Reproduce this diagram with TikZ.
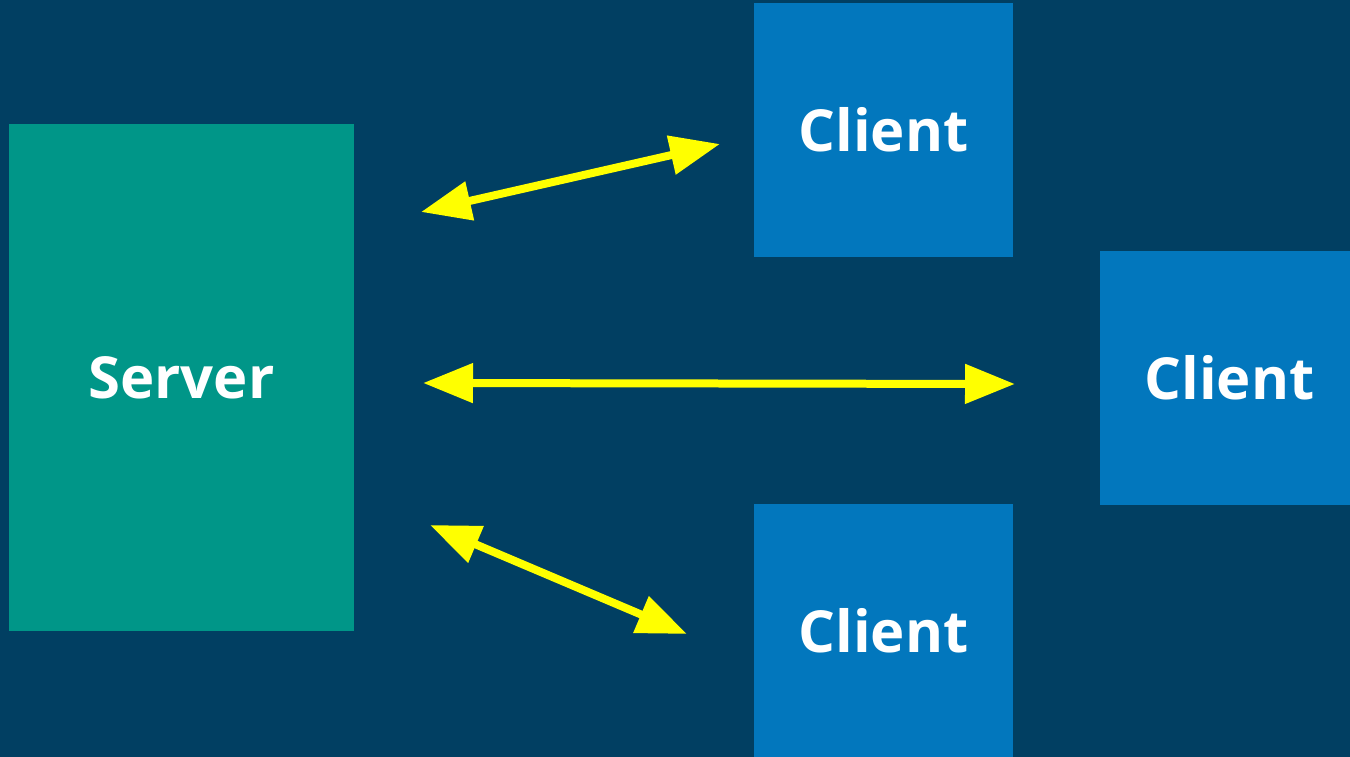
\documentclass[tikz,border=0pt]{standalone}
\usepackage{fontspec}
\setmainfont{Open Sans}
\usetikzlibrary{arrows.meta}
\definecolor{bgblue}{RGB}{1,63,98}
\definecolor{clientblue}{RGB}{2,119,189}
\definecolor{serverteal}{RGB}{0,150,136}
\definecolor{arrowyellow}{RGB}{255,255,0}
\tikzset{
  box/.style={draw=none, inner sep=0pt, outer sep=0pt, text=white, font=\fontsize{33}{40}\selectfont\bfseries},
  clientbox/.style={box, fill=clientblue, minimum width=5.18cm, minimum height=5.08cm},
  serverbox/.style={box, fill=serverteal, minimum width=6.9cm, minimum height=10.14cm},
  link/.style={arrowyellow, line width=0.16cm, {Triangle[length=1cm,width=0.76cm]}-{Triangle[length=1cm,width=0.76cm]}}
}
\begin{document}
\begin{tikzpicture}[x=0.02cm, y=-0.02cm]
  \useasboundingbox (0,0) rectangle (1350,757);
  \clip (0,0) rectangle (1350,757);
  \fill[bgblue] (0,0) rectangle (1350,757);
  \node[serverbox] (server) at (181.5,377.5) {Server};
  \node[clientbox] (c1) at (883.5,130) {Client};
  \node[clientbox] (c2) at (1229.5,378) {Client};
  \node[clientbox] (c3) at (883.5,630.5) {Client};
  \coordinate (a1s) at (421,212);
  \coordinate (a1e) at (720,144);
  \coordinate (a2s) at (423,383);
  \coordinate (a2e) at (1015,384);
  \coordinate (a3s) at (430,525);
  \coordinate (a3e) at (687,634);
  \draw[link] (a1s) -- (a1e);
  \draw[link] (a2s) -- (a2e);
  \draw[link] (a3s) -- (a3e);
\end{tikzpicture}
\end{document}
